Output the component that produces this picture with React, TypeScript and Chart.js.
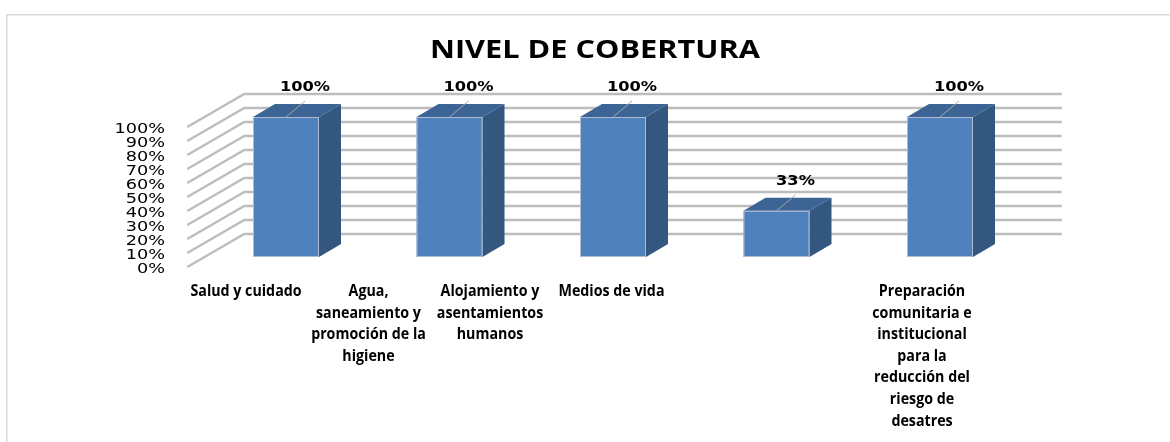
import React, { useEffect, useRef } from "react";
import { Chart, registerables } from "chart.js";

Chart.register(...registerables);

const TITLE = "NIVEL DE COBERTURA";

const categories: string[][] = [
  ["Salud y cuidado"],
  ["Agua,", "saneamiento y", "promoción de la", "higiene"],
  ["Alojamiento y", "asentamientos", "humanos"],
  ["Medios de vida"],
  [
    "Preparación",
    "comunitaria e",
    "institucional",
    "para la",
    "reducción del",
    "riesgo de",
    "desatres",
  ],
];

const coverage = [100, 100, 100, 33, 100];

const yTickValues = [0, 10, 20, 30, 40, 50, 60, 70, 80, 90, 100];
const yTickLabels = ["0%", "10%", "20%", "30%", "40%", "50%", "60%", "70%", "80%", "90%", "100%"];

// styling / 3D projection
const FRONT_COLOR = "#4f81bd";
const SIDE_COLOR = "#34577f";
const TOP_COLOR = "#3c6596";
const EDGE_COLOR = "rgba(190,200,215,0.85)";
const GRID_COLOR = "#bdbdbd";
const DEPTH_FRONT = { dx: -17, dy: 10 };
const DEPTH_BACK = { dx: 40, dy: -23 };
const BAR_DEPTH = { dx: 22, dy: -13 };
const LABEL_SHIFT = [-40, -81, -123, -165, -18];

function drawText(
  ctx: CanvasRenderingContext2D,
  text: string,
  x: number,
  y: number,
  font: string,
  sx: number,
  align: CanvasTextAlign
) {
  ctx.save();
  ctx.font = font;
  ctx.textBaseline = "alphabetic";
  ctx.textAlign = align;
  ctx.translate(x, y);
  ctx.scale(sx, 1);
  ctx.fillText(text, 0, 0);
  ctx.restore();
}

const threeDPlugin = {
  id: "threeD",
  beforeDatasetsDraw(chart: any) {
    const ctx: CanvasRenderingContext2D = chart.ctx;
    const { left, right } = chart.chartArea;
    const ys = chart.scales.y;
    const xs = chart.scales.x;
    ctx.save();

    // outer border
    ctx.strokeStyle = "#d9d9d9";
    ctx.lineWidth = 1.5;
    ctx.strokeRect(6.75, 14.75, 1400, 800);

    // title
    ctx.fillStyle = "#000";
    ctx.font = "bold 25px 'Open Sans'";
    const tw = ctx.measureText(TITLE).width;
    drawText(ctx, TITLE, 595, 58, "bold 25px 'Open Sans'", 330 / tw, "center");

    // gridlines (left wall + back wall)
    ctx.strokeStyle = GRID_COLOR;
    ctx.lineWidth = 2.5;
    yTickValues.forEach((v, k) => {
      const py = ys.getPixelForValue(v);
      ctx.beginPath();
      ctx.moveTo(left + DEPTH_FRONT.dx, py + DEPTH_FRONT.dy);
      ctx.lineTo(left + DEPTH_BACK.dx, py + DEPTH_BACK.dy);
      ctx.lineTo(right + DEPTH_BACK.dx, py + DEPTH_BACK.dy);
      ctx.stroke();
      ctx.fillStyle = "#000";
      drawText(
        ctx,
        yTickLabels[k],
        165,
        py + DEPTH_FRONT.dy + 5.5,
        "14.5px 'DejaVu Sans'",
        1.22,
        "right"
      );
    });

    // category labels
    ctx.fillStyle = "#000";
    categories.forEach((lines, i) => {
      const cx = xs.getPixelForValue(i) + LABEL_SHIFT[i];
      lines.forEach((ln, j) => {
        drawText(ctx, ln, cx, 296 + j * 21.6, "bold 16px 'Open Sans'", 0.89, "center");
      });
    });
    ctx.restore();
  },
  afterDatasetsDraw(chart: any) {
    const ctx: CanvasRenderingContext2D = chart.ctx;
    const meta = chart.getDatasetMeta(0);
    ctx.save();
    meta.data.forEach((bar: any, i: number) => {
      const { x, y, base, width } = bar.getProps(["x", "y", "base", "width"], true);
      const l = x - width / 2;
      const r = x + width / 2;
      ctx.lineWidth = 1;
      ctx.strokeStyle = EDGE_COLOR;
      // side face
      ctx.fillStyle = SIDE_COLOR;
      ctx.beginPath();
      ctx.moveTo(r, y);
      ctx.lineTo(r + BAR_DEPTH.dx, y + BAR_DEPTH.dy);
      ctx.lineTo(r + BAR_DEPTH.dx, base + BAR_DEPTH.dy);
      ctx.lineTo(r, base);
      ctx.closePath();
      ctx.fill();
      // top face
      ctx.fillStyle = TOP_COLOR;
      ctx.beginPath();
      ctx.moveTo(l, y);
      ctx.lineTo(r, y);
      ctx.lineTo(r + BAR_DEPTH.dx, y + BAR_DEPTH.dy);
      ctx.lineTo(l + BAR_DEPTH.dx, y + BAR_DEPTH.dy);
      ctx.closePath();
      ctx.fill();
      // front face edge
      ctx.strokeRect(l + 0.5, y + 0.5, width - 1, base - y - 1);
      // leader line
      ctx.strokeStyle = "#a6a6a6";
      ctx.beginPath();
      ctx.moveTo(x, y);
      ctx.lineTo(x + 19, y - 16);
      ctx.stroke();
      // value label
      ctx.fillStyle = "#000";
      drawText(ctx, coverage[i] + "%", x + 19, y - 26, "bold 14.5px 'DejaVu Sans'", 1.12, "center");
    });
    ctx.restore();
  },
};

export default function App() {
  const ref = useRef<HTMLCanvasElement | null>(null);
  useEffect(() => {
    if (!ref.current) return;
    const chart = new Chart(ref.current, {
      type: "bar",
      data: {
        labels: categories,
        datasets: [
          {
            data: coverage,
            backgroundColor: FRONT_COLOR,
            borderWidth: 0,
            barPercentage: 66 / 163.5,
            categoryPercentage: 1,
          },
        ],
      },
      options: {
        responsive: false,
        animation: false,
        layout: { padding: { left: 204.25, right: 148.25, top: 117, bottom: 185 } },
        plugins: { legend: { display: false }, tooltip: { enabled: false }, title: { display: false } },
        scales: {
          x: { display: false },
          y: { display: false, min: 0, max: 100 },
        },
      },
      plugins: [threeDPlugin],
    });
    return () => chart.destroy();
  }, []);
  return (
    <div style={{ position: "absolute", left: 0, top: 0, width: 1170, height: 442 }}>
      <canvas ref={ref} width={1170} height={442} style={{ width: 1170, height: 442 }} />
    </div>
  );
}
